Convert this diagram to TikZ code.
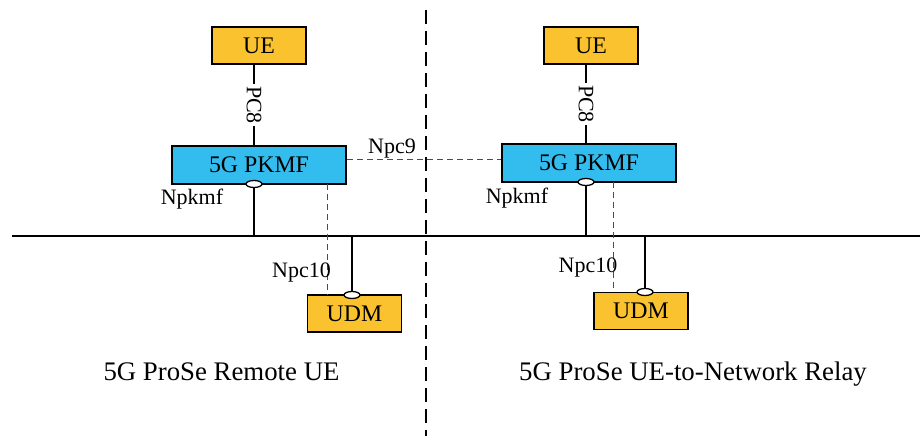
\documentclass[tikz,border=0pt]{standalone}
\usepackage{fontspec}
\setmainfont{Liberation Serif}
\newfontfamily\tms{Liberation Serif}
\usetikzlibrary{shapes.geometric}
\definecolor{nfy}{HTML}{F9C22E}
\definecolor{nfb}{HTML}{33BDEF}
\begin{document}
\begin{tikzpicture}[x=1pt,y=-1pt,
  nf/.style={draw=black,line width=1.8pt,inner sep=0pt,font=\tms\fontsize{23.8}{27}\selectfont},
  yel/.style={nf,fill=nfy,minimum width=94pt,minimum height=37pt},
  blu/.style={nf,fill=nfb,minimum width=174pt,minimum height=38pt},
  port/.style={ellipse,draw=black,line width=1.3pt,fill=white,minimum width=16pt,minimum height=7pt,inner sep=0pt},
  lbl/.style={font=\tms\fontsize{22}{25}\selectfont,inner sep=1pt},
  solidl/.style={line width=1.8pt},
  thind/.style={line width=0.8pt,draw=black!70,dash pattern=on 6pt off 4pt},
  captext/.style={font=\tms\fontsize{26.8}{30}\selectfont,anchor=base},
]
\useasboundingbox (0,0) rectangle (920,443);
% separators
\coordinate (busL) at (12,236);
\coordinate (busR) at (920,236);
\coordinate (sepT) at (426,10);
\coordinate (sepB) at (426,436);
\draw[solidl] (busL) -- (busR);
\draw[line width=1.8pt,dash pattern=on 14pt off 7pt] (sepT) -- (sepB);

% left side
\node[yel] (ueL) at (259,45.5) {UE};
\node[blu] (pkL) at (259,165) {5G PKMF};
\node[yel] (udmL) at (354.5,313.5) {UDM};
\node[port] (eL) at (254,184) {};
\node[port] (uL) at (352,295) {};
\draw[solidl] (ueL.south -| eL) -- node[lbl,fill=white,rotate=-90,inner sep=2pt] {PC8} (pkL.north -| eL);
\draw[solidl] (eL.south) -- (eL |- busL);
\draw[solidl] (uL |- busL) -- (uL.north);
\coordinate (dL) at (327,184);
\draw[thind] (dL) -- (dL |- udmL.north);
\node[lbl,anchor=base] (npkL) at (192,205) {Npkmf};
\node[lbl,anchor=base] (npc10L) at (301.5,278) {Npc10};

% right side
\node[yel] (ueR) at (591,45.5) {UE};
\node[blu] (pkR) at (589,163) {5G PKMF};
\node[yel] (udmR) at (641,311) {UDM};
\node[port] (eR) at (586,182) {};
\node[port] (uR) at (645,292) {};
\draw[solidl] (ueR.south -| eR) -- node[lbl,fill=white,rotate=-90,inner sep=2pt] {PC8} (pkR.north -| eR);
\draw[solidl] (eR.south) -- (eR |- busL);
\draw[solidl] (uR |- busL) -- (uR.north);
\coordinate (dR) at (613,182);
\draw[thind] (dR) -- (dR |- udmR.north);
\node[lbl,anchor=base] (npkR) at (517,204) {Npkmf};
\node[lbl,anchor=base] (npc10R) at (588,273) {Npc10};

% Npc9
\coordinate (n9) at (0,159);
\draw[thind] (pkL.east |- n9) -- (pkR.west |- n9);
\node[lbl,anchor=base] (npc9) at (392,154) {Npc9};

% captions
\node[captext] (capL) at (221.5,380) {5G ProSe Remote UE};
\node[captext] (capR) at (693,380) {5G ProSe UE-to-Network Relay};
\end{tikzpicture}
\end{document}
